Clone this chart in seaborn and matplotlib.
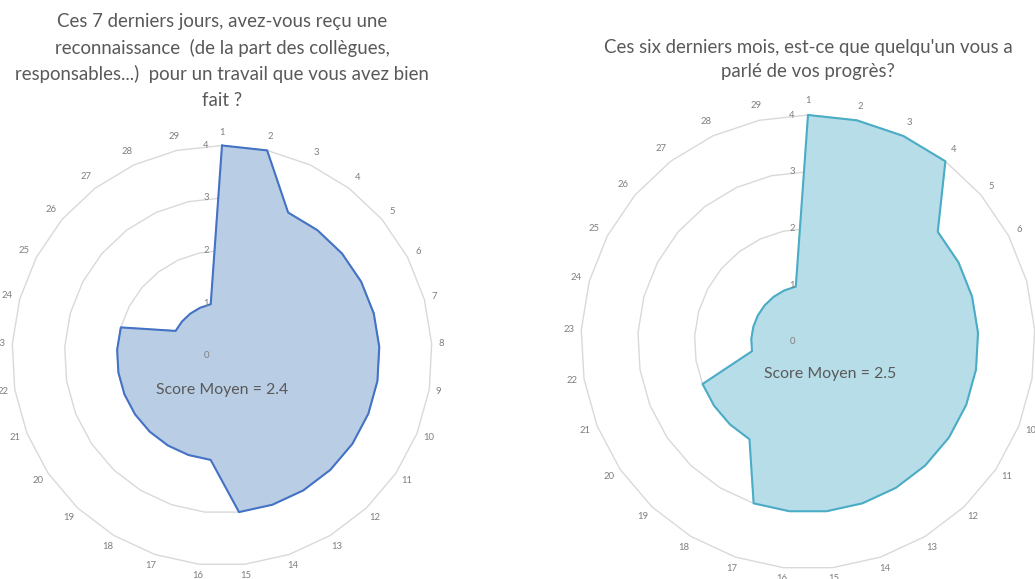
import numpy as np
import matplotlib
matplotlib.use("Agg")
import matplotlib.pyplot as plt
import matplotlib.transforms as mtransforms
import seaborn as sns

# ---- data ----
categories = [str(i) for i in range(1, 30)]
scores_left = [4, 4, 3, 3, 3, 3, 3, 3, 3, 3, 3, 3, 3, 3, 3,
               2, 2, 2, 2, 2, 2, 2, 2, 2, 1, 1, 1, 1, 1]
scores_right = [4, 4, 4, 4, 3, 3, 3, 3, 3, 3, 3, 3, 3, 3, 3,
                3, 3, 2, 2, 2, 2, 1, 1, 1, 1, 1, 1, 1, 1]
ring_values = [0, 1, 2, 3, 4]
title_left = ["Ces 7 derniers jours, avez-vous reçu une",
              "reconnaissance  (de la part des collègues,",
              "responsables...)  pour un travail que vous avez bien",
              "fait ?"]
title_right = ["Ces six derniers mois, est-ce que quelqu'un vous a",
               "parlé de vos progrès?"]
score_left = "Score Moyen = 2.4"
score_right = "Score Moyen = 2.5"

sns.set_theme(style="white")
plt.rcParams['font.family'] = ['Lato', 'DejaVu Sans']

W, H = 1035, 579
fig = plt.figure(figsize=(W / 100, H / 100), dpi=100)
fig.patch.set_facecolor("white")

TXT = "#595959"
LBL = "#7F7F7F"
GRID = "#D9D9D9"


def make_radar(cx, cy, R, vals, fill, edge, title_lines, title_y, score_txt, score_xy):
    ax = fig.add_axes([(cx - R) / W, (H - cy - R) / H, 2 * R / W, 2 * R / H],
                      projection="polar")
    ax.set_theta_zero_location("N")
    ax.set_theta_direction(-1)
    n = len(categories)
    unit = R / 4.0
    theta = np.linspace(0, 2 * np.pi, n, endpoint=False)
    th_c = np.append(theta, theta[0] + 2 * np.pi)
    ax.grid(False)
    ax.spines["polar"].set_visible(False)
    ax.set_facecolor("none")
    ax.set_xticks([])
    ax.set_yticks([])
    ax.set_ylim(0, 4)
    # polygon gridlines
    for r in ring_values[1:]:
        ax.plot(th_c, np.full(len(th_c), r), color=GRID, lw=1.0, zorder=1, clip_on=False)
    v = np.array(vals, dtype=float)
    v_c = np.append(v, v[0])
    ax.fill(th_c, v_c, color=fill, zorder=2, clip_on=False)
    sns.lineplot(x=th_c, y=v_c, ax=ax, sort=False, estimator=None, color=edge,
                 lw=1.5, zorder=3, clip_on=False)
    ax.set_xlabel("")
    ax.set_ylabel("")
    ax.set_ylim(0, 4)
    # category labels (inner edge at a fixed distance from the outer ring)
    for t, lab in zip(theta, categories):
        half_w = 2.6 * len(lab)
        half_h = 4.0
        r_edge = 4.12 + 0.06 * max(np.cos(t), 0)
        r_lab = r_edge + (half_w * abs(np.sin(t)) + half_h * abs(np.cos(t))) / unit
        ax.text(t, r_lab, lab, ha="center", va="center", fontsize=6.8,
                color=LBL, clip_on=False)
    # value labels
    off = mtransforms.offset_copy(ax.transData, fig=fig, x=-16, y=0, units="dots")
    for r in ring_values:
        ax.text(0, r, str(r), transform=off, ha="center", va="center",
                fontsize=6.8, color=LBL, zorder=4)
    # titles
    for i, line in enumerate(title_lines):
        fig.text(cx / W, 1 - title_y[i] / H, line, ha="center", va="center",
                 fontsize=13.4, color=TXT)
    fig.text(score_xy[0] / W, 1 - score_xy[1] / H, score_txt, ha="center",
             va="center", fontsize=11.4, color=TXT)
    return ax


make_radar(222, 355.5, 210, scores_left, "#B9CDE5", "#4472C4",
           title_left, [22, 48, 74, 100], score_left, (222, 390))
make_radar(808, 342, 227, scores_right, "#B7DDE8", "#4BACC6",
           title_right, [48, 72], score_right, (830, 374))

fig.savefig("out.png", dpi=100, facecolor="white")
